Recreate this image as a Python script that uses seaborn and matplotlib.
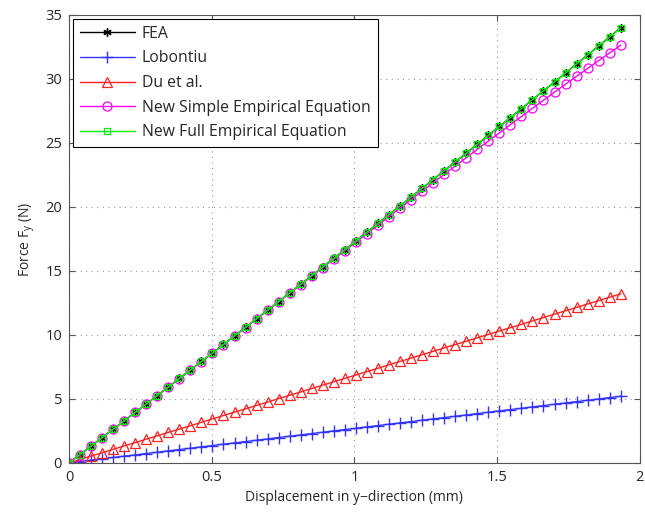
import numpy as np
import pandas as pd
import matplotlib
matplotlib.use("Agg")
import matplotlib.pyplot as plt
import seaborn as sns

# ---- data ----
displacement = np.linspace(0.0, 1.933, 51)  # mm, sampling positions of markers

fea = [0.00, 0.65, 1.31, 1.97, 2.62, 3.28, 3.94, 4.60, 5.26, 5.92,
       6.59, 7.25, 7.92, 8.58, 9.25, 9.92, 10.59, 11.26, 11.93, 12.60,
       13.28, 13.95, 14.63, 15.31, 15.98, 16.66, 17.34, 18.02, 18.71, 19.39,
       20.07, 20.76, 21.45, 22.13, 22.82, 23.51, 24.20, 24.89, 25.58, 26.28,
       26.97, 27.67, 28.37, 29.06, 29.76, 30.46, 31.16, 31.87, 32.57, 33.27,
       34.00]
lobontiu = [0.00, 0.10, 0.21, 0.31, 0.42, 0.52, 0.62, 0.73, 0.83, 0.94,
            1.04, 1.14, 1.25, 1.35, 1.46, 1.56, 1.66, 1.77, 1.87, 1.98,
            2.08, 2.18, 2.29, 2.39, 2.50, 2.60, 2.70, 2.81, 2.91, 3.02,
            3.12, 3.22, 3.33, 3.43, 3.54, 3.64, 3.74, 3.85, 3.95, 4.06,
            4.16, 4.26, 4.37, 4.47, 4.58, 4.68, 4.78, 4.89, 4.99, 5.10,
            5.20]
du_et_al = [0.00, 0.26, 0.53, 0.79, 1.06, 1.32, 1.58, 1.85, 2.11, 2.38,
            2.64, 2.90, 3.17, 3.43, 3.70, 3.96, 4.22, 4.49, 4.75, 5.02,
            5.28, 5.54, 5.81, 6.07, 6.34, 6.60, 6.86, 7.13, 7.39, 7.66,
            7.92, 8.18, 8.45, 8.71, 8.98, 9.24, 9.50, 9.77, 10.03, 10.30,
            10.56, 10.82, 11.09, 11.35, 11.62, 11.88, 12.14, 12.41, 12.67, 12.94,
            13.20]
simple_emp = [0.00, 0.65, 1.31, 1.97, 2.62, 3.28, 3.94, 4.60, 5.26, 5.92,
              6.58, 7.25, 7.91, 8.58, 9.24, 9.91, 10.57, 11.24, 11.91, 12.58,
              13.24, 13.91, 14.58, 15.25, 15.91, 16.58, 17.24, 17.91, 18.57, 19.24,
              19.90, 20.56, 21.22, 21.88, 22.53, 23.19, 23.84, 24.49, 25.14, 25.78,
              26.42, 27.06, 27.70, 28.33, 28.96, 29.58, 30.20, 30.81, 31.42, 32.03,
              32.63]
full_emp = [0.00, 0.65, 1.31, 1.96, 2.62, 3.28, 3.94, 4.60, 5.26, 5.92,
            6.59, 7.25, 7.92, 8.58, 9.25, 9.92, 10.59, 11.26, 11.93, 12.60,
            13.28, 13.95, 14.63, 15.30, 15.98, 16.66, 17.34, 18.02, 18.70, 19.39,
            20.07, 20.76, 21.44, 22.13, 22.82, 23.51, 24.20, 24.89, 25.58, 26.28,
            26.97, 27.67, 28.36, 29.06, 29.76, 30.46, 31.16, 31.86, 32.57, 33.27,
            33.98]

series_names = ["FEA", "Lobontiu", "Du et al.",
                "New Simple Empirical Equation", "New Full Empirical Equation"]
series_values = [fea, lobontiu, du_et_al, simple_emp, full_emp]

x_ticks = [0, 0.5, 1, 1.5, 2]
x_ticklabels = ["0", "0.5", "1", "1.5", "2"]
y_ticks = [0, 5, 10, 15, 20, 25, 30, 35]

# ---- style ----
sns.set_style("white")
plt.rcParams['font.family'] = ['Open Sans', 'DejaVu Sans']

styles = {
    "FEA": dict(color="black", marker=(6, 2, 0), markersize=6, mew=1.0, mfc="black"),
    "Lobontiu": dict(color="#3333ff", marker="+", markersize=8.5, mew=1.0, mfc="#3333ff"),
    "Du et al.": dict(color="#ff2020", marker="^", markersize=6.5, mew=0.9, mfc="none"),
    "New Simple Empirical Equation": dict(color="#ff00ff", marker="o", markersize=6.5,
                                          mew=0.9, mfc="none"),
    "New Full Empirical Equation": dict(color="#00ee00", marker="s", markersize=5,
                                        mew=0.9, mfc="none"),
}

rows = []
for name, vals in zip(series_names, series_values):
    for xv, yv in zip(displacement, vals):
        rows.append((name, xv, yv))
df = pd.DataFrame(rows, columns=["series", "disp", "force"])

fig = plt.figure(figsize=(6.45, 5.12), dpi=100)
ax = fig.add_axes([0.107, 0.096, 0.885, 0.875])

for name in series_names:
    sub = df[df["series"] == name]
    st = styles[name]
    n_before = len(ax.lines)
    sns.lineplot(data=sub, x="disp", y="force", ax=ax, label=name,
                 estimator=None, sort=False, color=st["color"])
    line = ax.lines[n_before]
    line.set_linestyle("-")
    line.set_linewidth(1.0)
    line.set_marker(st["marker"])
    line.set_markersize(st["markersize"])
    line.set_markeredgewidth(st["mew"])
    line.set_markeredgecolor(st["color"])
    line.set_markerfacecolor(st["mfc"])

ax.set_xlim(0, 2)
ax.set_ylim(0, 35)
ax.set_xticks(x_ticks)
ax.set_xticklabels(x_ticklabels)
ax.set_yticks(y_ticks)
ax.grid(True, linestyle=(0, (1, 4)), color="#999999", linewidth=0.8)
ax.tick_params(direction="in", length=4, labelsize=10.5, color="#555555",
               top=True, right=True, bottom=True, left=True, pad=5)
for sp in ax.spines.values():
    sp.set_color("#555555")
    sp.set_linewidth(0.8)

ax.set_xlabel("Displacement in y\u2212direction (mm)", fontsize=10, labelpad=4)
ax.set_ylabel("Force F$_\\mathregular{y}$ (N)", fontsize=10, labelpad=6)

leg = ax.legend(loc="upper left", fontsize=11.3, frameon=True, fancybox=False,
                edgecolor="black", framealpha=1, handlelength=3.5,
                handletextpad=0.45, borderaxespad=0.25, labelspacing=0.55,
                borderpad=0.45)
leg.get_frame().set_linewidth(0.8)

fig.savefig("out.png", dpi=100)
